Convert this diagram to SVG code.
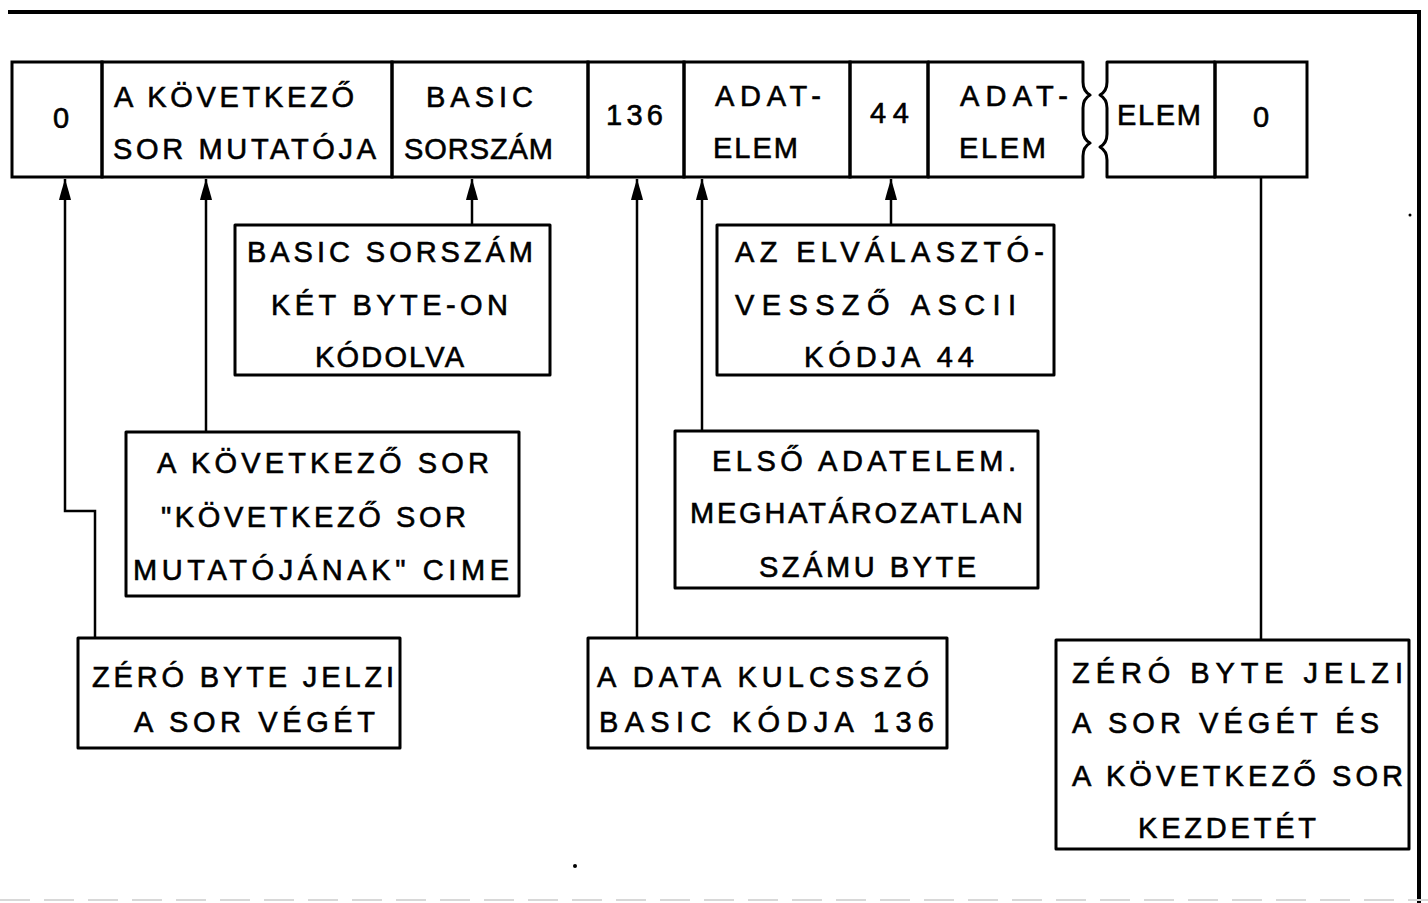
<svg xmlns="http://www.w3.org/2000/svg" width="1428" height="903" viewBox="0 0 1428 903">
<style>
.t{font-family:"Liberation Sans","DejaVu Sans",Arial,sans-serif;font-size:29px;fill:#000;stroke:#000;stroke-width:0.6px}
.box{fill:#fff;stroke:#000;stroke-width:3px;stroke-linejoin:round}
.cell{fill:none;stroke:#000;stroke-width:3px}
.conn{fill:none;stroke:#000;stroke-width:2.5px}
.frame{fill:none;stroke:#000;stroke-width:4px}
</style>
<defs>
<marker id="arr" markerUnits="userSpaceOnUse" markerWidth="22" markerHeight="14" viewBox="0 0 22 14" refX="21" refY="7" orient="auto">
<path d="M0,1 Q8,3 21,7 Q8,11 0,13 Z" fill="#000"/>
</marker>
</defs>
<rect width="1428" height="903" fill="#fff"/>
<path class="frame" d="M8,12 L1419,12 L1419,903"/>
<line x1="0" y1="900" x2="1428" y2="900" stroke="#d8d8d8" stroke-width="2" stroke-dasharray="30 14"/>
<circle cx="575" cy="866" r="2" fill="#000"/>
<circle cx="1410" cy="215" r="1.5" fill="#000"/>

<g id="record">
<g id="cell-0">
<rect class="cell" x="12" y="62" width="90" height="115"/>
<text class="t" x="61" y="128" text-anchor="middle">0</text>
</g>
<g id="cell-pointer">
<rect class="cell" x="102" y="62" width="290" height="115"/>
<text class="t" x="114" y="107" textLength="240" lengthAdjust="spacing">A KÖVETKEZŐ</text>
<text class="t" x="113" y="159" textLength="263" lengthAdjust="spacing">SOR MUTATÓJA</text>
</g>
<g id="cell-lineno">
<rect class="cell" x="392" y="62" width="196" height="115"/>
<text class="t" x="426" y="107" textLength="107" lengthAdjust="spacing">BASIC</text>
<text class="t" x="404" y="159" textLength="149" lengthAdjust="spacing">SORSZÁM</text>
</g>
<g id="cell-136">
<rect class="cell" x="588" y="62" width="96" height="115"/>
<text class="t" x="606" y="125" textLength="57" lengthAdjust="spacing">136</text>
</g>
<g id="cell-adat1">
<rect class="cell" x="684" y="62" width="166" height="115"/>
<text class="t" x="715" y="106" textLength="106" lengthAdjust="spacing">ADAT-</text>
<text class="t" x="713" y="158" textLength="85" lengthAdjust="spacing">ELEM</text>
</g>
<g id="cell-44">
<rect class="cell" x="850" y="62" width="78" height="115"/>
<text class="t" x="870" y="123" textLength="39" lengthAdjust="spacing">44</text>
</g>
<g id="cell-adat2">
<path class="cell" d="M1083,62 L928,62 L928,177 L1083,177 L1083,156 Q1083,147 1090,143 Q1083,139 1083,130 L1083,108 Q1083,99 1090,95 Q1083,91 1083,82 Z" stroke-linejoin="round"/>
<text class="t" x="960" y="106" textLength="108" lengthAdjust="spacing">ADAT-</text>
<text class="t" x="959" y="158" textLength="87" lengthAdjust="spacing">ELEM</text>
</g>
<g id="cell-elem">
<path class="cell" d="M1107,62 L1215,62 L1215,177 L1107,177 L1107,160 Q1107,151 1100,147 Q1107,143 1107,134 L1107,108 Q1107,99 1100,95 Q1107,91 1107,82 Z" stroke-linejoin="round"/>
<text class="t" x="1117" y="125" textLength="84" lengthAdjust="spacing">ELEM</text>
</g>
<g id="cell-0-end">
<rect class="cell" x="1215" y="62" width="92" height="115"/>
<text class="t" x="1261" y="127" text-anchor="middle">0</text>
</g>
</g>

<g id="connectors">
<path class="conn" d="M95,638 L95,511 L65,511 L65,179" marker-end="url(#arr)"/>
<path class="conn" d="M206,432 L206,179" marker-end="url(#arr)"/>
<path class="conn" d="M472,225 L472,179" marker-end="url(#arr)"/>
<path class="conn" d="M637,638 L637,179" marker-end="url(#arr)"/>
<path class="conn" d="M702,431 L702,179" marker-end="url(#arr)"/>
<path class="conn" d="M891,225 L891,179" marker-end="url(#arr)"/>
<path class="conn" d="M1261,177 L1261,640"/>
</g>

<g id="note-lineno">
<rect class="box" x="235" y="225" width="315" height="150"/>
<text class="t" x="247" y="262" textLength="286" lengthAdjust="spacing">BASIC SORSZÁM</text>
<text class="t" x="271" y="315" textLength="237" lengthAdjust="spacing">KÉT BYTE-ON</text>
<text class="t" x="315" y="367" textLength="149" lengthAdjust="spacing">KÓDOLVA</text>
</g>

<g id="note-comma">
<rect class="box" x="717" y="225" width="337" height="150"/>
<text class="t" x="735" y="262" textLength="309" lengthAdjust="spacing">AZ ELVÁLASZTÓ-</text>
<text class="t" x="735" y="315" textLength="281" lengthAdjust="spacing">VESSZŐ ASCII</text>
<text class="t" x="804" y="367" textLength="170" lengthAdjust="spacing">KÓDJA 44</text>
</g>

<g id="note-pointer">
<rect class="box" x="126" y="432" width="393" height="164"/>
<text class="t" x="157" y="473" textLength="332" lengthAdjust="spacing">A KÖVETKEZŐ SOR</text>
<text class="t" x="161" y="527" textLength="305" lengthAdjust="spacing">"KÖVETKEZŐ SOR</text>
<text class="t" x="133" y="580" textLength="376" lengthAdjust="spacing">MUTATÓJÁNAK" CIME</text>
</g>

<g id="note-first">
<rect class="box" x="675" y="431" width="363" height="157"/>
<text class="t" x="712" y="471" textLength="304" lengthAdjust="spacing">ELSŐ ADATELEM.</text>
<text class="t" x="690" y="523" textLength="333" lengthAdjust="spacing">MEGHATÁROZATLAN</text>
<text class="t" x="759" y="577" textLength="217" lengthAdjust="spacing">SZÁMU BYTE</text>
</g>

<g id="note-zero">
<rect class="box" x="78" y="638" width="322" height="110"/>
<text class="t" x="92" y="687" textLength="302" lengthAdjust="spacing">ZÉRÓ BYTE JELZI</text>
<text class="t" x="134" y="732" textLength="241" lengthAdjust="spacing">A SOR VÉGÉT</text>
</g>

<g id="note-data">
<rect class="box" x="588" y="638" width="359" height="110"/>
<text class="t" x="597" y="687" textLength="332" lengthAdjust="spacing">A DATA KULCSSZÓ</text>
<text class="t" x="599" y="732" textLength="335" lengthAdjust="spacing">BASIC KÓDJA 136</text>
</g>

<g id="note-end">
<rect class="box" x="1056" y="640" width="353" height="209"/>
<text class="t" x="1072" y="683" textLength="331" lengthAdjust="spacing">ZÉRÓ BYTE JELZI</text>
<text class="t" x="1072" y="733" textLength="307" lengthAdjust="spacing">A SOR VÉGÉT ÉS</text>
<text class="t" x="1072" y="786" textLength="331" lengthAdjust="spacing">A KÖVETKEZŐ SOR</text>
<text class="t" x="1138" y="838" textLength="178" lengthAdjust="spacing">KEZDETÉT</text>
</g>
</svg>
